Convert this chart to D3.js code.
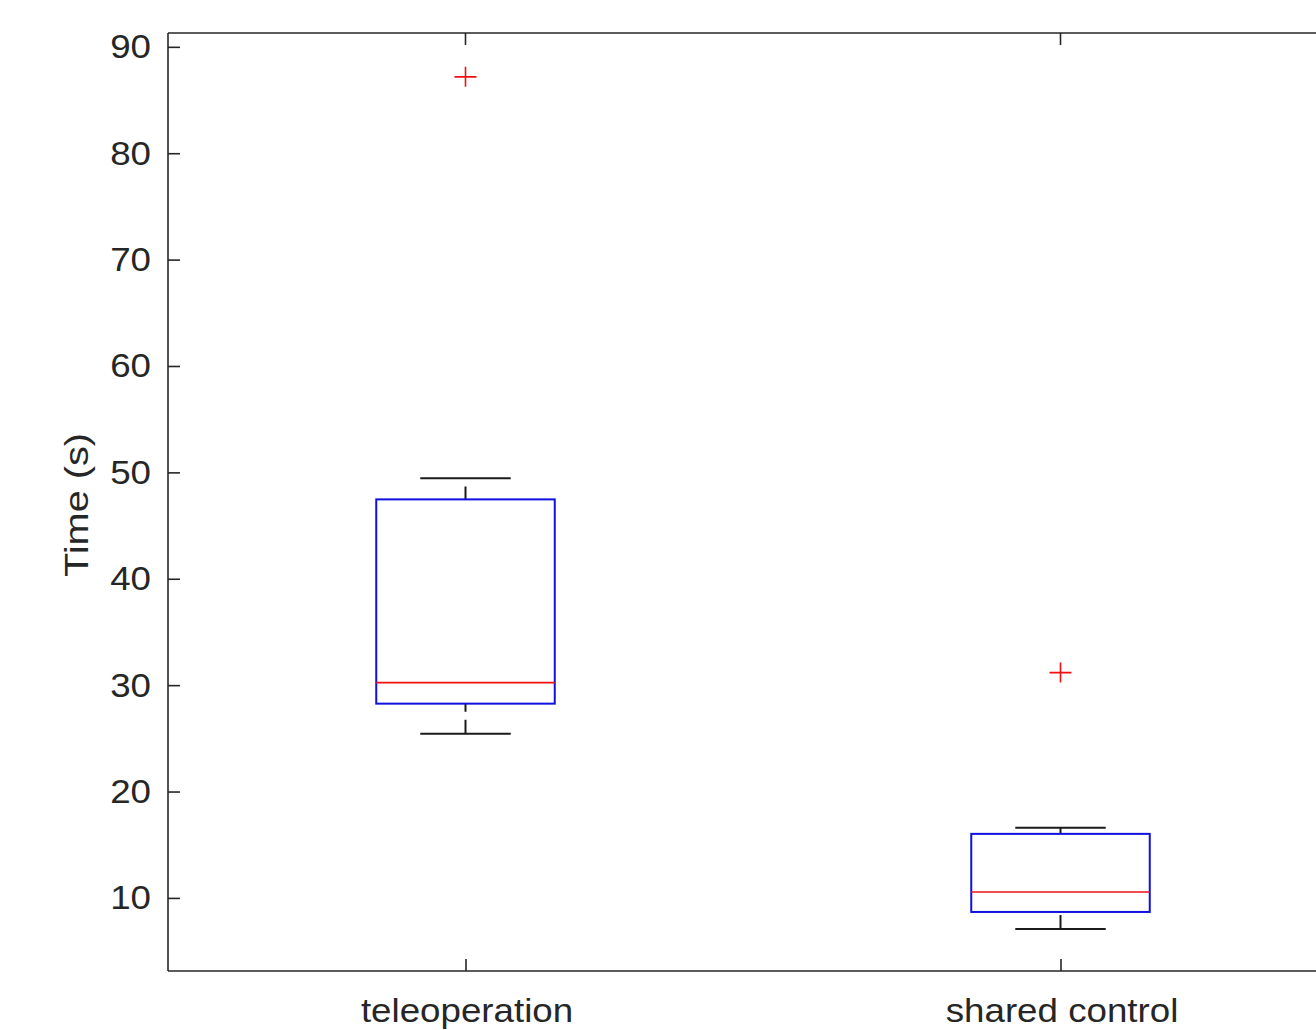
<!DOCTYPE html>
<html><head><meta charset="utf-8">
<script src="https://cdn.jsdelivr.net/npm/d3@7"></script>
<style>html,body{margin:0;padding:0;background:#fff;overflow:hidden}</style>
</head><body>
<svg id="chart" width="1316" height="1030"></svg>
<script>
const categories = ["teleoperation", "shared control"];
const lowerWhisker = [25.44, 7.08];
const q1 = [28.26, 8.68];
const median = [30.24, 10.56];
const q3 = [47.46, 16.02];
const upperWhisker = [49.44, 16.59];
const outliers = [[87.18], [31.18]];
const yTicks = [10, 20, 30, 40, 50, 60, 70, 80, 90];
const yLabel = "Time (s)";

const svg = d3.select("#chart");
const plotLeft = 168, plotTop = 33, plotBottom = 971;
const x = d3.scaleLinear().domain([0.5, 2.5]).range([plotLeft, plotLeft + 2 * 595]);
const y = d3.scaleLinear().domain([3.13, 91.3]).range([plotBottom, plotTop]);
const axisColor = "#262626";
const font = "'Liberation Sans', Arial, Helvetica, sans-serif";

// frame
svg.append("line").attr("x1", plotLeft).attr("x2", x(2.5)).attr("y1", plotTop).attr("y2", plotTop)
  .attr("stroke", axisColor).attr("stroke-width", 1.6);
svg.append("line").attr("x1", x(2.5)).attr("x2", x(2.5)).attr("y1", plotTop).attr("y2", plotBottom)
  .attr("stroke", axisColor).attr("stroke-width", 1.6);

// y axis (ticks inward)
const yAxis = d3.axisLeft(y).tickValues(yTicks).tickSize(-12).tickPadding(17).tickSizeOuter(0);
const gy = svg.append("g").attr("transform", `translate(${plotLeft},0)`).call(yAxis);
gy.select(".domain").attr("d", `M0,${plotTop}V${plotBottom}`).attr("stroke", axisColor).attr("stroke-width", 1.6);
gy.selectAll(".tick line").attr("stroke", axisColor).attr("stroke-width", 1.6);
gy.selectAll(".tick text").attr("fill", axisColor).attr("font-family", font).attr("font-size", 34)
  .attr("x", 0).attr("transform", "translate(-17,0) scale(1.08,1)");
svg.append("g").selectAll("line").data(yTicks).join("line")
  .attr("x1", x(2.5)).attr("x2", x(2.5) - 12).attr("y1", d => y(d)).attr("y2", d => y(d))
  .attr("stroke", axisColor).attr("stroke-width", 1.6);

// x axis
const xAxis = d3.axisBottom(x).tickValues([1, 2]).tickFormat(d => categories[d - 1])
  .tickSize(-12).tickPadding(28).tickSizeOuter(0);
const gx = svg.append("g").attr("transform", `translate(0,${plotBottom})`).call(xAxis);
gx.select(".domain").attr("d", `M${plotLeft},0H${x(2.5)}`).attr("stroke", axisColor).attr("stroke-width", 1.6);
gx.selectAll(".tick line").attr("stroke", axisColor).attr("stroke-width", 1.6);
gx.selectAll(".tick text").attr("fill", axisColor).attr("font-family", font).attr("font-size", 34)
  .attr("y", 51).attr("dy", 0).attr("transform", "translate(1,0) scale(1.08,1)");
svg.append("g").selectAll("line").data([1, 2]).join("line")
  .attr("x1", d => x(d)).attr("x2", d => x(d)).attr("y1", plotTop).attr("y2", plotTop + 12)
  .attr("stroke", axisColor).attr("stroke-width", 1.6);

// y label
svg.append("text").attr("transform", `translate(88,505) rotate(-90)`)
  .attr("text-anchor", "middle").attr("font-family", font).attr("font-size", 34)
  .attr("textLength", 144).attr("lengthAdjust", "spacingAndGlyphs")
  .attr("fill", axisColor).text(yLabel);

// boxes
const boxHalf = 0.15, capHalf = 0.076;
const g = svg.append("g");
categories.forEach((c, i) => {
  const cx = i + 1;
  g.append("line").attr("x1", x(cx)).attr("x2", x(cx)).attr("y1", y(q3[i])).attr("y2", y(upperWhisker[i]))
    .attr("stroke", "#1a1a1a").attr("stroke-width", 2).attr("stroke-dasharray", "13,8");
  g.append("line").attr("x1", x(cx)).attr("x2", x(cx)).attr("y1", y(lowerWhisker[i])).attr("y2", y(q1[i]))
    .attr("stroke", "#1a1a1a").attr("stroke-width", 2).attr("stroke-dasharray", "14,8");
  [lowerWhisker[i], upperWhisker[i]].forEach(v => {
    g.append("line").attr("x1", x(cx - capHalf)).attr("x2", x(cx + capHalf)).attr("y1", y(v)).attr("y2", y(v))
      .attr("stroke", "#1a1a1a").attr("stroke-width", 2);
  });
  g.append("rect").attr("x", x(cx - boxHalf)).attr("width", x(cx + boxHalf) - x(cx - boxHalf))
    .attr("y", y(q3[i])).attr("height", y(q1[i]) - y(q3[i]))
    .attr("fill", "none").attr("stroke", "#1010e0").attr("stroke-width", 2);
  g.append("line").attr("x1", x(cx - boxHalf)).attr("x2", x(cx + boxHalf)).attr("y1", y(median[i])).attr("y2", y(median[i]))
    .attr("stroke", "#f01010").attr("stroke-width", 1.6);
  outliers[i].forEach(v => {
    g.append("path").attr("d", `M${x(cx) - 11},${y(v)}h22M${x(cx)},${y(v) - 10}v20`)
      .attr("stroke", "#f01010").attr("stroke-width", 1.6).attr("fill", "none");
  });
});
</script>
</body></html>
